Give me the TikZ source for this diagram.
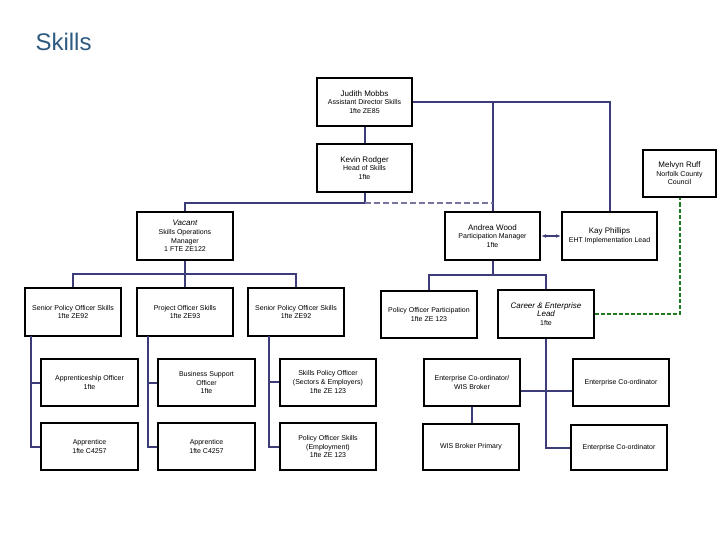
\documentclass[tikz,border=0pt]{standalone}
\usepackage{fontspec}
\setmainfont{Liberation Sans}
\usetikzlibrary{arrows.meta}
\definecolor{ln}{HTML}{3C3C78}
\definecolor{ttl}{HTML}{2E5A80}
\definecolor{grn}{HTML}{1E7A1E}
\newcommand\nmf{\fontsize{8}{9.5}\selectfont}
\begin{document}
\begin{tikzpicture}[x=1pt,y=-1pt,
 box/.style={draw=black,line width=2pt,fill=white,align=center,inner sep=0pt,font=\fontsize{7}{8.6}\selectfont},
 conn/.style={draw=ln,line width=2pt}]
\useasboundingbox (0,0) rectangle (720,540);
\node[anchor=west,text=ttl,font=\fontsize{24}{26}\selectfont] (title) at (32,42) {Skills};
\def\bx#1#2#3#4#5#6{\node[box,minimum width=#4pt,minimum height=#5pt] (#1) at (#2,#3) {#6};}
\bx{judith}{364.5}{102}{95}{48}{{\nmf Judith Mobbs}\\Assistant Director Skills\\1fte ZE85}
\bx{kevin}{364.5}{168}{95}{48}{{\nmf Kevin Rodger}\\Head of Skills\\1fte}
\bx{melvyn}{679.5}{173.5}{73}{47}{{\nmf Melvyn Ruff}\\Norfolk County\\Council}
\bx{vacant}{185}{236}{96}{48}{{\nmf\itshape Vacant}\\Skills Operations\\Manager\\1 FTE ZE122}
\bx{andrea}{492.5}{236}{95}{48}{{\nmf Andrea Wood}\\Participation Manager\\1fte}
\bx{kay}{609.5}{236}{95}{48}{{\nmf Kay Phillips}\\EHT Implementation Lead}
\bx{spo1}{73}{312}{96}{48}{Senior Policy Officer Skills\\1fte ZE92}
\bx{proj}{185}{312}{96}{48}{Project Officer Skills\\1fte ZE93}
\bx{spo2}{296}{312}{96}{48}{Senior Policy Officer Skills\\1fte ZE92}
\bx{pop}{429}{314.5}{96}{47}{Policy Officer Participation\\1fte ZE 123}
\bx{career}{546}{314}{96}{48}{{\nmf\itshape Career \& Enterprise}\\{\nmf\itshape Lead}\\1fte}
\bx{appo}{89.5}{382.5}{97}{47}{Apprenticeship Officer\\1fte}
\bx{bso}{206.5}{382.5}{97}{47}{Business Support\\Officer\\1fte}
\bx{spof}{328}{382}{96}{47}{Skills Policy Officer\\(Sectors \& Employers)\\1fte ZE 123}
\bx{ecw}{472}{382.5}{96}{47}{Enterprise Co-ordinator/\\WIS Broker}
\bx{ecA}{621}{382.5}{96}{47}{Enterprise Co-ordinator}
\bx{appr1}{89.5}{446.5}{97}{47}{Apprentice\\1fte C4257}
\bx{appr2}{206.5}{446.5}{97}{47}{Apprentice\\1fte C4257}
\bx{pos}{328}{446.5}{96}{47}{Policy Officer Skills\\(Employment)\\1fte ZE 123}
\bx{wis}{471}{447}{96}{46}{WIS Broker Primary}
\bx{ecB}{619}{447.5}{96}{45}{Enterprise Co-ordinator}
\coordinate (kb) at (364.5,203);
\coordinate (vb) at (185,274);
\coordinate (ab) at (492.5,275);
\coordinate (t1) at (31,336);
\coordinate (t2) at (148,336);
\coordinate (t3) at (269,336);
\draw[conn] (judith.east) -| (kay.north);
\draw[conn] (judith.east -| andrea.north) -- (andrea.north);
\draw[conn] (judith.south) -- (kevin.north);
\draw[conn] (kevin.south) -- (kb) -| (vacant.north);
\draw[conn,dash pattern=on 6pt off 3pt,draw=ln!70] (kb) -- (kb -| andrea.north);
\draw[conn] (vacant.south) -- (proj.north);
\draw[conn] (spo1.north) |- (vb) -| (spo2.north);
\draw[conn] (andrea.south) -- (ab);
\draw[conn] (pop.north) |- (ab) -| (career.north);
\draw[conn,{Latex[length=5pt]}-{Latex[length=5pt]}] (andrea.east) -- (kay.west);
\draw[draw=grn,line width=2pt,dash pattern=on 4pt off 2pt] (career.east) -| (melvyn.south);
\draw[conn] (t1) |- (appr1.west);
\draw[conn] (t1 |- appo.west) -- (appo.west);
\draw[conn] (t2) |- (appr2.west);
\draw[conn] (t2 |- bso.west) -- (bso.west);
\draw[conn] (t3) |- (pos.west);
\draw[conn] (t3 |- spof.west) -- (spof.west);
\draw[conn] (career.south) |- (ecB.west);
\draw[conn] ([yshift=-8pt]ecw.east) -- ([yshift=-8pt]ecA.west);
\draw[conn] (ecw.south) -- (ecw.south |- wis.north);
\end{tikzpicture}
\end{document}
